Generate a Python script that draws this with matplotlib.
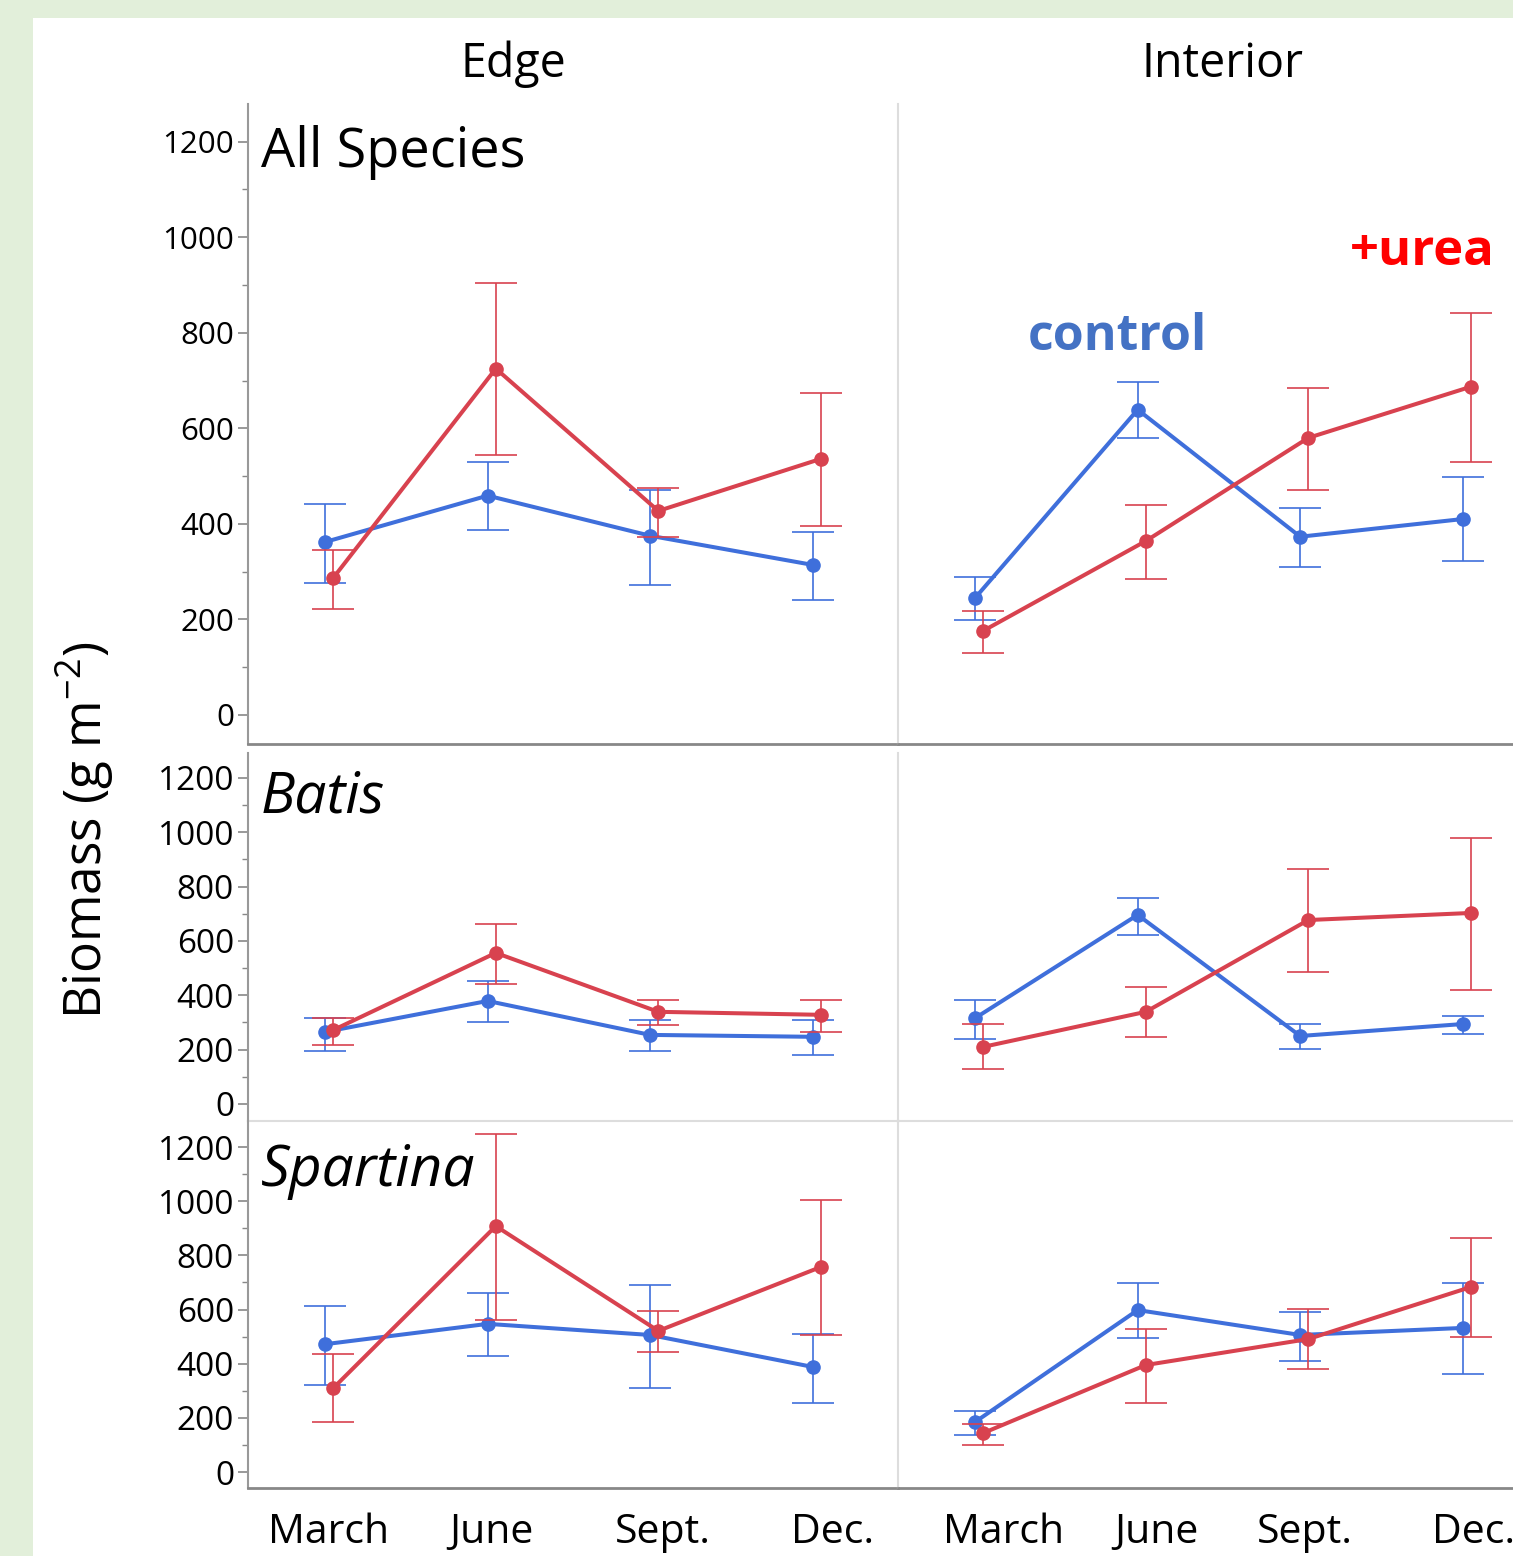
import matplotlib
matplotlib.use("Agg")
import matplotlib.pyplot as plt
from matplotlib.patches import Rectangle
from matplotlib.ticker import MultipleLocator
import numpy as np

plt.rcParams['font.family'] = ['Open Sans', 'DejaVu Sans']

months = ["March", "June", "Sept.", "Dec."]
sites = ["Edge", "Interior"]
species = ["All Species", "Batis", "Spartina"]

# values: mean, upper, lower  (control = blue, urea = red)
# All Species
all_edge_ctrl = [362, 459, 375, 314]
all_edge_ctrl_hi = [442, 530, 470, 383]
all_edge_ctrl_lo = [276, 387, 272, 241]
all_edge_urea = [287, 725, 427, 536]
all_edge_urea_hi = [346, 905, 475, 674]
all_edge_urea_lo = [222, 545, 373, 396]

all_int_ctrl = [245, 639, 373, 410]
all_int_ctrl_hi = [289, 697, 434, 498]
all_int_ctrl_lo = [199, 580, 310, 323]
all_int_urea = [176, 364, 580, 687]
all_int_urea_hi = [218, 440, 685, 842]
all_int_urea_lo = [130, 285, 471, 530]

# Batis
bat_edge_ctrl = [265, 379, 254, 247]
bat_edge_ctrl_hi = [317, 453, 309, 309]
bat_edge_ctrl_lo = [195, 302, 195, 180]
bat_edge_urea = [272, 556, 339, 328]
bat_edge_urea_hi = [317, 663, 383, 383]
bat_edge_urea_lo = [217, 442, 291, 265]

bat_int_ctrl = [316, 696, 250, 294]
bat_int_ctrl_hi = [383, 758, 294, 324]
bat_int_ctrl_lo = [239, 622, 202, 258]
bat_int_urea = [210, 339, 677, 703]
bat_int_urea_hi = [294, 431, 865, 979]
bat_int_urea_lo = [129, 247, 486, 420]

# Spartina
spa_edge_ctrl = [472, 547, 506, 388]
spa_edge_ctrl_hi = [613, 661, 690, 510]
spa_edge_ctrl_lo = [321, 428, 310, 255]
spa_edge_urea = [310, 908, 521, 757]
spa_edge_urea_hi = [436, 1248, 594, 1004]
spa_edge_urea_lo = [185, 561, 443, 506]

spa_int_ctrl = [185, 598, 506, 532]
spa_int_ctrl_hi = [225, 698, 591, 698]
spa_int_ctrl_lo = [137, 495, 410, 362]
spa_int_urea = [144, 395, 491, 683]
spa_int_urea_hi = [177, 528, 602, 864]
spa_int_urea_lo = [100, 255, 380, 499]

panels = {
    (0, 0): (all_edge_ctrl, all_edge_ctrl_hi, all_edge_ctrl_lo, all_edge_urea, all_edge_urea_hi, all_edge_urea_lo),
    (0, 1): (all_int_ctrl, all_int_ctrl_hi, all_int_ctrl_lo, all_int_urea, all_int_urea_hi, all_int_urea_lo),
    (1, 0): (bat_edge_ctrl, bat_edge_ctrl_hi, bat_edge_ctrl_lo, bat_edge_urea, bat_edge_urea_hi, bat_edge_urea_lo),
    (1, 1): (bat_int_ctrl, bat_int_ctrl_hi, bat_int_ctrl_lo, bat_int_urea, bat_int_urea_hi, bat_int_urea_lo),
    (2, 0): (spa_edge_ctrl, spa_edge_ctrl_hi, spa_edge_ctrl_lo, spa_edge_urea, spa_edge_urea_hi, spa_edge_urea_lo),
    (2, 1): (spa_int_ctrl, spa_int_ctrl_hi, spa_int_ctrl_lo, spa_int_urea, spa_int_urea_hi, spa_int_urea_lo),
}

BLUE = "#3F6FDB"
RED = "#D8424F"
W, H = 1513, 1556
fig = plt.figure(figsize=(W / 100, H / 100), dpi=100, facecolor="#E2EFDA")
fig.patches.append(Rectangle((33 / W, 0), 1 - 33 / W, 1 - 18 / H, transform=fig.transFigure,
                             facecolor="white", edgecolor="none", zorder=-10))

col_x = [248, 898]
col_w = 650
row_y = [(104, 744), (753, 1121), (1121, 1488)]
row_lim = [(-61, 1279), (-63, 1292), (-59, 1296)]
# x-label centres (pixels) as placed in the original figure
label_px = [[329, 491, 663, 833], [1004, 1156, 1305, 1474]]

x = np.arange(len(months))
off = 0.025

for (r, c), (cm, chi, clo, um, uhi, ulo) in panels.items():
    top, bot = row_y[r]
    ax = fig.add_axes([col_x[c] / W, 1 - bot / H, col_w / W, (bot - top) / H])
    ax.set_facecolor("none")
    ax.set_xlim(-0.5, 3.5)
    ax.set_ylim(*row_lim[r])
    for means, hi, lo, col, dx, z in [(cm, chi, clo, BLUE, -off, 3), (um, uhi, ulo, RED, off, 4)]:
        means = np.array(means); hi = np.array(hi); lo = np.array(lo)
        yerr = np.vstack([means - lo, hi - means])
        ax.errorbar(x + dx, means, yerr=yerr, fmt="none", ecolor=col, elinewidth=1.2,
                    capsize=15, capthick=1.2, zorder=z)
        ax.plot(x + dx, means, "-o", color=col, lw=2.9, ms=9.5, zorder=z + 1)
    for s in ["top", "right"]:
        ax.spines[s].set_visible(False)
    if c == 0:
        ax.spines["left"].set_color("#999999")
        ax.spines["left"].set_linewidth(1.5)
        ax.yaxis.set_major_locator(MultipleLocator(200))
        ax.yaxis.set_minor_locator(MultipleLocator(100))
        ax.tick_params(axis="y", which="major", length=7, width=1.2, color="#888888",
                       labelsize=22.5 if r == 0 else 24, pad=3)
        ax.tick_params(axis="y", which="minor", length=4, width=1.0, color="#888888")
    else:
        ax.spines["left"].set_color("#DDDDDD")
        ax.spines["left"].set_linewidth(1.5)
        ax.set_yticks([])
    if r == 1:
        ax.spines["bottom"].set_color("#DDDDDD")
        ax.spines["bottom"].set_linewidth(1.5)
    else:
        ax.spines["bottom"].set_color("#888888")
        ax.spines["bottom"].set_linewidth(2)
    ax.set_xticks([])
    if r == 2:
        for m, px in zip(months, label_px[c]):
            fig.text(px / W, 1 - 1533 / H, m, fontsize=29.5, ha="center", va="center")
    if c == 0:
        style = "normal" if r == 0 else "italic"
        ax.text(0.02, 0.967 if r == 0 else (0.955 if r == 1 else 0.94), species[r],
                transform=ax.transAxes, fontsize=39 if r == 0 else 41, style=style,
                ha="left", va="top")
    if (r, c) == (0, 1):
        ax.text(1117 / W, 1 - 337 / H, "control", transform=fig.transFigure, color="#4472C4",
                fontsize=36, fontweight="bold", ha="center", va="center")
        ax.text(1422 / W, 1 - 252 / H, "+urea", transform=fig.transFigure, color="#FF0000",
                fontsize=36.5, fontweight="bold", ha="center", va="center")

site_x = [513, 1222]
for sx, name in zip(site_x, sites):
    fig.text(sx / W, 1 - 64 / H, name, fontsize=33.5, ha="center", va="center")

fig.text(85 / W, 1 - 830 / H, "Biomass (g m$^{\\mathregular{-2}}$)", rotation=90,
         fontsize=37, ha="center", va="center")

fig.savefig("out.png", dpi=100, facecolor=fig.get_facecolor())
